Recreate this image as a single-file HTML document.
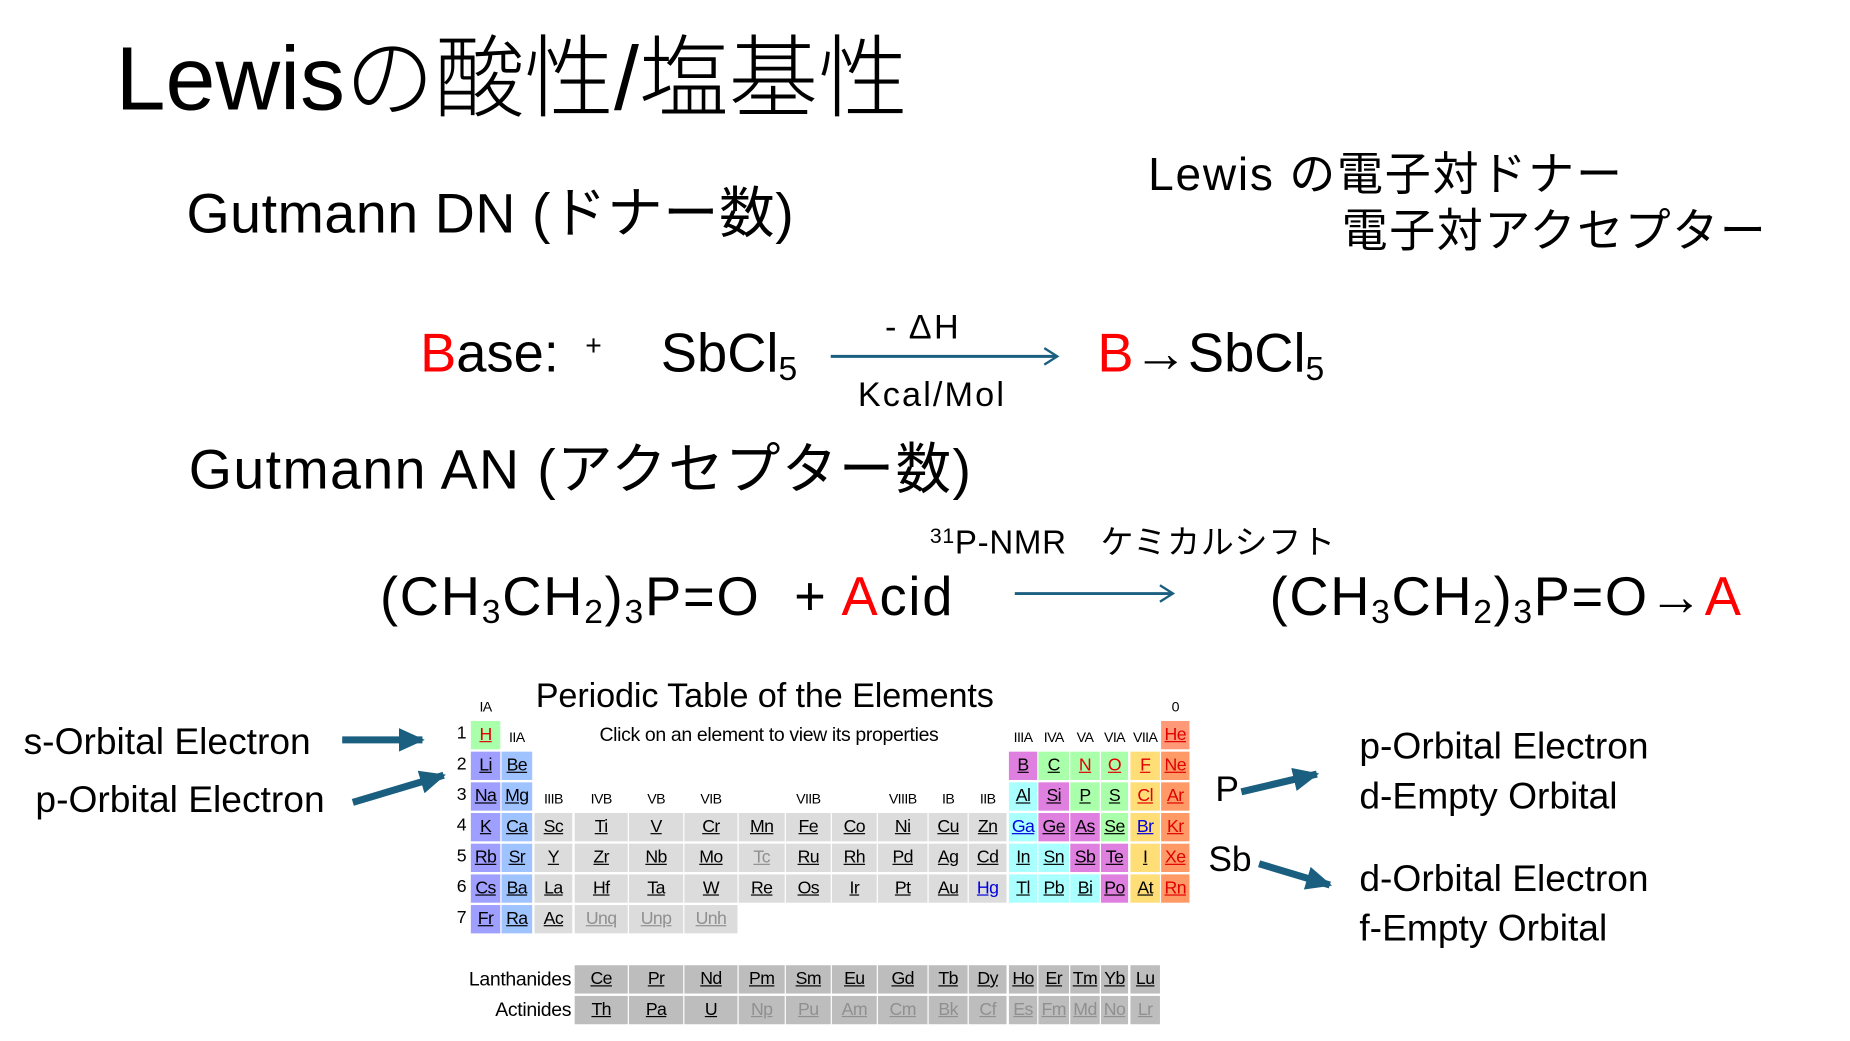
<!DOCTYPE html>
<html><head><meta charset="utf-8"><style>
html,body{margin:0;padding:0;width:1850px;height:1040px;overflow:hidden;background:#fff}
#c{position:absolute;left:0;top:0;width:1568px;height:882px;transform:scale(1.18);transform-origin:0 0;font-family:"Liberation Sans","Noto Sans CJK JP",sans-serif;color:#000}
.t{position:absolute;white-space:nowrap;line-height:1}
.r{color:#f00}
sub{font-size:0.62em;vertical-align:-0.25em}
.cell{position:absolute;height:24px;line-height:24px;text-align:center;font-family:"Liberation Sans",Arial,sans-serif;font-size:15px;text-decoration:underline;letter-spacing:-0.5px}
.lab{position:absolute;font-family:"Liberation Sans",Arial,sans-serif;font-size:12px;line-height:12px;text-align:center;letter-spacing:-0.5px}
</style></head><body><div id="c">
<div class="t" style="left:98px;top:30px;font-size:76px;font-weight:300">Lewisの酸性/塩基性</div>
<div class="t" style="left:158px;top:157px;font-size:47px;letter-spacing:0.5px">Gutmann DN (ドナー数)</div>
<div class="t" style="left:973px;top:129px;font-size:39px;letter-spacing:1.5px">Lewis の電子対ドナー</div>
<div class="t" style="left:1137px;top:177px;font-size:39px;letter-spacing:1.3px">電子対アクセプター</div>

<div class="t" style="left:356px;top:276px;font-size:46px"><span class="r">B</span>ase:</div>
<div class="t" style="left:496px;top:282px;font-size:24px">+</div>
<div class="t" style="left:560px;top:276px;font-size:46px">SbCl<sub>5</sub></div>
<div class="t" style="left:750px;top:264px;font-size:29px;letter-spacing:2px">- ΔH</div>
<div class="t" style="left:727px;top:321px;font-size:29px;letter-spacing:1.8px">Kcal/Mol</div>
<div class="t" style="left:930px;top:276px;font-size:46px"><span class="r">B</span>→SbCl<sub>5</sub></div>

<div class="t" style="left:160px;top:374px;font-size:47px;letter-spacing:1.2px">Gutmann AN (アクセプター数)</div>
<div class="t" style="left:788px;top:445px;font-size:28px;letter-spacing:0.6px"><sup style="font-size:18px;vertical-align:0.5em">31</sup>P-NMR　ケミカルシフト</div>
<div class="t" style="left:322px;top:482px;font-size:46px;letter-spacing:1.5px">(CH<sub>3</sub>CH<sub>2</sub>)<sub>3</sub>P=O &nbsp;+ <span class="r">A</span>cid</div>
<div class="t" style="left:1076px;top:482px;font-size:46px;letter-spacing:1.4px">(CH<sub>3</sub>CH<sub>2</sub>)<sub>3</sub>P=O→<span class="r">A</span></div>

<div class="t" style="left:20px;top:613px;font-size:31.5px">s-Orbital Electron</div>
<div class="t" style="left:30px;top:662px;font-size:31.5px">p-Orbital Electron</div>
<div class="t" style="left:1030px;top:655px;font-size:30px">P</div>
<div class="t" style="left:1024px;top:714px;font-size:30px">Sb</div>
<div class="t" style="left:1152px;top:617px;font-size:31.5px">p-Orbital Electron</div>
<div class="t" style="left:1152px;top:659px;font-size:31.5px">d-Empty Orbital</div>
<div class="t" style="left:1152px;top:729px;font-size:31.5px">d-Orbital Electron</div>
<div class="t" style="left:1152px;top:771px;font-size:31.5px">f-Empty Orbital</div>

<svg style="position:absolute;left:0;top:0" width="1568" height="882">
<defs>
<marker id="b" markerWidth="22" markerHeight="20" refX="20" refY="10" orient="auto" markerUnits="userSpaceOnUse"><path d="M0,0L22,10L0,20z" fill="#1b5f80"/></marker></defs>
<line x1="704" y1="302" x2="895" y2="302" stroke="#1b5f80" stroke-width="2.5"/>
<path d="M885,295L896,302L885,309" fill="none" stroke="#1b5f80" stroke-width="2"/>
<line x1="860" y1="503" x2="993" y2="503" stroke="#1b5f80" stroke-width="2.5"/>
<path d="M983,496L994,503L983,510" fill="none" stroke="#1b5f80" stroke-width="2"/>
<g stroke="#1b5f80" stroke-width="6" marker-end="url(#b)">
<line x1="290" y1="627" x2="358" y2="627"/>
<line x1="299" y1="680" x2="376" y2="657"/>
<line x1="1052" y1="671" x2="1116" y2="656"/>
<line x1="1067" y1="732" x2="1127" y2="750"/>
</g></svg>

<div class="t" style="left:454px;top:576px;font-family:'Liberation Sans',Arial,sans-serif;font-size:29px;letter-spacing:-0.1px">Periodic Table of the Elements</div>
<div class="t" style="left:508px;top:615px;font-family:'Liberation Sans',Arial,sans-serif;font-size:16.5px;letter-spacing:-0.3px">Click on an element to view its properties</div>
<div id="pt"></div>
</div>
<script>
var cols=[[399,424],[425,451],[453,485],[487,532],[533,579],[580,625],[626,665],[666,704],[705,743],[744,786],[787,820],[821,853],[855,879],[880,906],[907,932],[933,956],[958,983],[984,1008]];
var C={a:'#9f9fff',b:'#9fc3ff',t:'#dcdcdc',g:'#aaffaa',p:'#df7fdf',c:'#aaffff',y:'#ffdd77',o:'#ff9966',h:'#ff9977',l:'#bdbdbd'};
var T={r:'#e00000',u:'#0000dd',g:'#909090',k:'#000'};
var rows=[
[[0,'H','g','r'],[17,'He','h','r']],
[[0,'Li','a'],[1,'Be','b'],[12,'B','p'],[13,'C','g'],[14,'N','g','r'],[15,'O','g','r'],[16,'F','y','r'],[17,'Ne','o','r']],
[[0,'Na','a'],[1,'Mg','b'],[12,'Al','c'],[13,'Si','p'],[14,'P','g'],[15,'S','g'],[16,'Cl','y','r'],[17,'Ar','o','r']],
[[0,'K','a'],[1,'Ca','b'],'Sc Ti V Cr Mn Fe Co Ni Cu Zn',[12,'Ga','c','u'],[13,'Ge','p'],[14,'As','p'],[15,'Se','g'],[16,'Br','y','u'],[17,'Kr','o','r']],
[[0,'Rb','a'],[1,'Sr','b'],'Y Zr Nb Mo Tc Ru Rh Pd Ag Cd',[12,'In','c'],[13,'Sn','c'],[14,'Sb','p'],[15,'Te','p'],[16,'I','y'],[17,'Xe','o','r']],
[[0,'Cs','a'],[1,'Ba','b'],'La Hf Ta W Re Os Ir Pt Au Hg',[12,'Tl','c'],[13,'Pb','c'],[14,'Bi','c'],[15,'Po','p'],[16,'At','y'],[17,'Rn','o','r']],
[[0,'Fr','a'],[1,'Ra','b'],'Ac Unq Unp Unh']];
var h='';
function cell(ci,top,s,bg,tc){var c=cols[ci];h+='<div class="cell" style="left:'+c[0]+'px;top:'+top+'px;width:'+(c[1]-c[0])+'px;background:'+bg+';color:'+tc+'">'+s+'</div>';}
var gray={Tc:1,Unq:1,Unp:1,Unh:1,Np:1,Pu:1,Am:1,Cm:1,Bk:1,Cf:1,Es:1,Fm:1,Md:1,No:1,Lr:1};
rows.forEach(function(r,i){var top=611+i*26;
 h+='<div class="lab" style="left:384px;top:'+(top+5)+'px;width:14px;font-size:15px">'+(i+1)+'</div>';
 r.forEach(function(e){if(typeof e=='string'){e.split(' ').forEach(function(s,j){cell(2+j,top,s,C.t,gray[s]?T.g:(s=='Hg'?T.u:T.k));});}
 else cell(e[0],top,e[1],C[e[2]],T[e[3]||'k']);});});
var lan='Ce Pr Nd Pm Sm Eu Gd Tb Dy Ho Er Tm Yb Lu'.split(' '),act='Th Pa U Np Pu Am Cm Bk Cf Es Fm Md No Lr'.split(' ');
lan.forEach(function(s,j){cell(3+j,818,s,C.l,T.k);});
act.forEach(function(s,j){cell(3+j,844,s,C.l,gray[s]?T.g:T.k);});
h+='<div class="t" style="left:370px;top:822px;width:114px;text-align:right;font-family:Liberation Sans;font-size:16.5px;letter-spacing:-0.3px">Lanthanides</div>';
h+='<div class="t" style="left:370px;top:848px;width:114px;text-align:right;font-family:Liberation Sans;font-size:16.5px;letter-spacing:-0.3px">Actinides</div>';
function lab(ci,top,s){var c=cols[ci];h+='<div class="lab" style="left:'+(c[0]-6)+'px;top:'+top+'px;width:'+(c[1]-c[0]+12)+'px">'+s+'</div>';}
lab(0,593,'IA');lab(17,593,'0');lab(1,619,'IIA');
['IIIA','IVA','VA','VIA','VIIA'].forEach(function(s,j){lab(12+j,619,s);});
[[2,'IIIB'],[3,'IVB'],[4,'VB'],[5,'VIB'],[7,'VIIB'],[9,'VIIIB'],[10,'IB'],[11,'IIB']].forEach(function(e){lab(e[0],671,e[1]);});
document.getElementById('pt').innerHTML=h;
</script>
</body></html>
